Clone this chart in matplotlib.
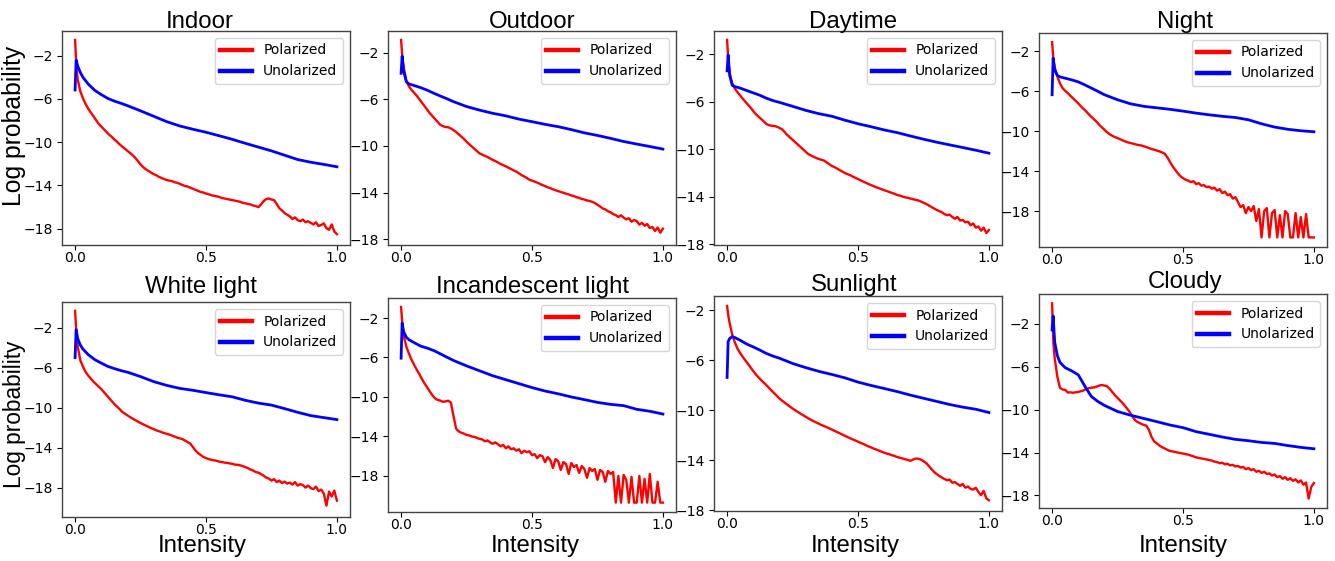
import numpy as np
import matplotlib
matplotlib.use('Agg')
import matplotlib.pyplot as plt

W, H = 1335, 561

# intensity bins used for the curves
red_x = np.r_[0, 0.005, np.arange(1, 101) / 100]
blue_x = [0, 0.004, 0.01, 0.02, 0.03, 0.05, 0.075, 0.1, 0.125, 0.15, 0.175,
          0.2, 0.25, 0.3, 0.35, 0.4, 0.45, 0.5, 0.55, 0.6, 0.65, 0.7, 0.75,
          0.8, 0.85, 0.9, 0.95, 1.0]

titles = ['Indoor', 'Outdoor', 'Daytime', 'Night',
          'White light', 'Incandescent light', 'Sunlight', 'Cloudy']

# log probability, polarized
indoor_pol = [-0.55, -3.0,
    -4.2, -5.3, -5.95, -6.45, -6.9, -7.25, -7.6, -7.95, -8.3, -8.55,
    -8.8, -9.05, -9.3, -9.5, -9.75, -9.95, -10.2, -10.4, -10.6, -10.8,
    -11.0, -11.2, -11.45, -11.75, -12.05, -12.3, -12.5, -12.65, -12.8, -12.95,
    -13.05, -13.2, -13.3, -13.4, -13.5, -13.55, -13.6, -13.7, -13.75, -13.85,
    -13.95, -14.05, -14.1, -14.2, -14.3, -14.4, -14.5, -14.6, -14.65, -14.75,
    -14.8, -14.9, -14.95, -15.0, -15.05, -15.15, -15.2, -15.25, -15.3, -15.35,
    -15.4, -15.45, -15.5, -15.6, -15.65, -15.7, -15.75, -15.85, -15.9, -16.0,
    -15.75, -15.45, -15.25, -15.2, -15.3, -15.35, -15.7, -16.1, -16.3, -16.55,
    -16.7, -16.85, -17.1, -16.95, -17.2, -17.3, -17.15, -17.4, -17.3, -17.45,
    -17.6, -17.4, -17.75, -17.65, -17.5, -17.95, -18.1, -17.6, -18.25, -18.5]
outdoor_pol = [-0.91, -2.4,
    -3.3, -4.4, -4.9, -5.2, -5.45, -5.7, -6.0, -6.3, -6.6, -6.9,
    -7.2, -7.45, -7.7, -7.95, -8.2, -8.3, -8.38, -8.4, -8.5, -8.65,
    -8.8, -9.0, -9.2, -9.4, -9.64, -9.85, -10.05, -10.25, -10.45, -10.64,
    -10.75, -10.85, -10.95, -11.07, -11.2, -11.3, -11.42, -11.55, -11.65, -11.75,
    -11.87, -11.98, -12.1, -12.2, -12.35, -12.5, -12.62, -12.75, -12.9, -12.98,
    -13.06, -13.15, -13.25, -13.36, -13.45, -13.55, -13.62, -13.72, -13.8, -13.88,
    -13.95, -14.02, -14.1, -14.16, -14.25, -14.3, -14.4, -14.45, -14.55, -14.6,
    -14.68, -14.72, -14.8, -14.9, -15.05, -15.2, -15.36, -15.45, -15.6, -15.7,
    -15.85, -15.94, -16.1, -15.95, -16.15, -16.3, -16.2, -16.5, -16.35, -16.45,
    -16.75, -16.6, -16.85, -16.7, -17.05, -16.95, -17.3, -17.0, -17.45, -17.1]
daytime_pol = [-0.79, -2.6,
    -3.6, -4.5, -4.9, -5.2, -5.48, -5.75, -6.0, -6.25, -6.5, -6.78,
    -7.05, -7.25, -7.45, -7.65, -7.87, -7.97, -8.02, -8.03, -8.1, -8.2,
    -8.32, -8.55, -8.8, -9.0, -9.2, -9.4, -9.6, -9.8, -10.0, -10.2,
    -10.4, -10.52, -10.62, -10.72, -10.82, -10.88, -10.95, -11.1, -11.25, -11.4,
    -11.5, -11.62, -11.75, -11.88, -12.0, -12.1, -12.18, -12.3, -12.4, -12.5,
    -12.62, -12.72, -12.82, -12.92, -13.02, -13.1, -13.2, -13.28, -13.36, -13.45,
    -13.52, -13.6, -13.68, -13.75, -13.85, -13.9, -13.98, -14.05, -14.08, -14.15,
    -14.2, -14.26, -14.3, -14.4, -14.5, -14.6, -14.72, -14.85, -14.98, -15.1,
    -15.2, -15.3, -15.45, -15.55, -15.5, -15.7, -15.85, -15.7, -16.0, -15.95,
    -16.15, -16.1, -16.4, -16.25, -16.6, -16.5, -16.85, -16.6, -17.05, -16.8]
night_pol = [-1.06, -2.8,
    -3.6, -4.5, -5.2, -5.67, -5.95, -6.17, -6.45, -6.7, -6.95, -7.2,
    -7.5, -7.75, -8.0, -8.3, -8.55, -8.8, -9.05, -9.35, -9.6, -9.85,
    -10.1, -10.3, -10.45, -10.58, -10.68, -10.8, -10.92, -11.02, -11.12, -11.18,
    -11.25, -11.32, -11.38, -11.42, -11.5, -11.58, -11.68, -11.78, -11.85, -11.93,
    -12.02, -12.12, -12.25, -12.6, -13.05, -13.5, -13.86, -14.2, -14.5, -14.7,
    -14.85, -14.95, -15.1, -15.0, -15.3, -15.2, -15.45, -15.4, -15.6, -15.55,
    -15.75, -15.65, -15.95, -15.8, -16.2, -16.05, -16.4, -16.3, -16.75, -16.6,
    -17.1, -17.6, -17.4, -18.2, -17.6, -18.0, -17.5, -19.0, -17.8, -20.64,
    -18.0, -17.7, -20.64, -18.2, -17.9, -20.64, -18.4, -20.64, -18.0, -18.3,
    -20.64, -20.64, -18.2, -20.64, -18.6, -20.64, -18.3, -20.64, -20.64, -20.64]
white_pol = [-0.33, -2.6,
    -3.9, -5.27, -5.9, -6.43, -6.8, -7.1, -7.4, -7.65, -7.9, -8.15,
    -8.45, -8.75, -9.05, -9.35, -9.65, -9.9, -10.15, -10.43, -10.6, -10.78,
    -10.95, -11.1, -11.25, -11.4, -11.55, -11.67, -11.8, -11.92, -12.05, -12.15,
    -12.27, -12.36, -12.45, -12.55, -12.62, -12.7, -12.8, -12.9, -13.0, -13.08,
    -13.15, -13.3, -13.45, -13.6, -13.95, -14.3, -14.55, -14.75, -14.93, -15.05,
    -15.15, -15.22, -15.27, -15.32, -15.4, -15.45, -15.5, -15.53, -15.58, -15.62,
    -15.7, -15.72, -15.77, -15.85, -15.95, -16.05, -16.2, -16.3, -16.45, -16.5,
    -16.65, -16.8, -17.0, -17.1, -17.3, -17.15, -17.45, -17.3, -17.55, -17.4,
    -17.6, -17.5, -17.7, -17.45, -17.8, -17.65, -17.75, -18.0, -17.8, -18.05,
    -18.15, -17.9, -18.35, -18.2, -18.6, -19.8, -18.4, -18.9, -18.3, -19.3]
incandescent_pol = [-0.88, -2.7,
    -3.8, -4.9, -5.6, -6.24, -6.75, -7.25, -7.7, -8.2, -8.65, -9.05,
    -9.46, -9.85, -10.14, -10.3, -10.37, -10.5, -10.45, -10.38, -10.55, -11.9,
    -13.2, -13.5, -13.62, -13.72, -13.85, -13.9, -14.0, -14.05, -14.15, -14.25,
    -14.3, -14.5, -14.4, -14.6, -14.75, -14.6, -14.8, -15.0, -14.85, -15.2,
    -15.0, -15.3, -15.2, -15.45, -15.3, -15.7, -15.45, -15.6, -15.5, -15.9,
    -15.8, -16.2, -15.9, -16.0, -16.6, -16.1, -16.4, -17.2, -16.3, -16.5,
    -17.4, -16.6, -16.8, -17.8, -16.7, -17.1, -16.9, -17.7, -17.0, -17.3,
    -18.2, -17.2, -17.5, -17.3, -18.4, -17.4, -17.6, -18.6, -17.5, -17.8,
    -17.6, -20.71, -18.0, -20.71, -17.9, -18.4, -20.71, -18.1, -20.71, -20.71,
    -18.0, -20.71, -18.3, -20.71, -17.8, -20.71, -20.71, -18.6, -20.71, -20.71]
sunlight_pol = [-1.68, -2.5,
    -3.07, -4.0, -4.6, -5.1, -5.45, -5.75, -6.03, -6.3, -6.6, -6.88,
    -7.15, -7.38, -7.6, -7.8, -8.0, -8.22, -8.44, -8.65, -8.86, -9.07,
    -9.24, -9.4, -9.56, -9.72, -9.87, -10.01, -10.14, -10.27, -10.4, -10.53,
    -10.65, -10.77, -10.88, -10.98, -11.08, -11.18, -11.27, -11.36, -11.45, -11.55,
    -11.65, -11.75, -11.85, -11.95, -12.05, -12.15, -12.25, -12.34, -12.43, -12.52,
    -12.62, -12.7, -12.8, -12.9, -12.98, -13.07, -13.15, -13.23, -13.32, -13.4,
    -13.47, -13.53, -13.6, -13.67, -13.75, -13.81, -13.86, -13.92, -13.98, -14.05,
    -13.95, -13.87, -13.88, -13.95, -14.08, -14.22, -14.45, -14.7, -14.93, -15.1,
    -15.25, -15.38, -15.5, -15.6, -15.55, -15.8, -15.75, -15.9, -16.05, -15.9,
    -16.2, -16.1, -16.3, -16.35, -16.2, -16.55, -16.8, -16.45, -17.05, -17.2]
cloudy_pol = [-0.07, -3.8,
    -5.2, -6.9, -7.95, -8.12, -8.15, -8.4, -8.38, -8.42, -8.38, -8.34,
    -8.28, -8.2, -8.08, -8.0, -7.95, -7.92, -7.85, -7.75, -7.7, -7.75,
    -7.82, -8.05, -8.35, -8.65, -8.9, -9.15, -9.4, -9.7, -10.0, -10.35,
    -10.75, -11.05, -11.2, -11.32, -11.42, -11.5, -11.9, -12.55, -12.97, -13.15,
    -13.35, -13.5, -13.62, -13.75, -13.85, -13.9, -13.95, -14.0, -14.05, -14.1,
    -14.15, -14.2, -14.28, -14.35, -14.45, -14.5, -14.55, -14.6, -14.65, -14.7,
    -14.75, -14.85, -14.9, -15.0, -14.95, -15.1, -15.05, -15.2, -15.15, -15.3,
    -15.25, -15.4, -15.35, -15.55, -15.45, -15.65, -15.55, -15.8, -15.7, -15.9,
    -15.8, -16.0, -15.95, -16.15, -16.05, -16.3, -16.2, -16.45, -16.3, -16.55,
    -16.4, -16.65, -16.5, -16.8, -16.6, -17.0, -16.8, -18.3, -17.2, -16.85]

# log probability, unpolarized
indoor_unpol = [-5.17, -2.4, -2.95, -3.55, -4.0, -4.62, -5.2, -5.6, -5.95, -6.2,
    -6.4, -6.62, -7.1, -7.6, -8.1, -8.5, -8.8, -9.08, -9.4, -9.73, -10.1,
    -10.45, -10.8, -11.2, -11.6, -11.85, -12.05, -12.27]
outdoor_unpol = [-3.77, -2.3, -3.6, -4.5, -4.68, -4.82, -5.0, -5.22, -5.48, -5.72,
    -5.95, -6.2, -6.62, -6.93, -7.2, -7.42, -7.7, -7.92, -8.15, -8.35, -8.6,
    -8.88, -9.1, -9.35, -9.62, -9.84, -10.05, -10.27]
daytime_unpol = [-3.4, -2.06, -3.8, -4.62, -4.72, -4.85, -5.05, -5.25, -5.45, -5.7,
    -5.9, -6.05, -6.38, -6.72, -7.0, -7.22, -7.55, -7.85, -8.1, -8.37, -8.6,
    -8.88, -9.15, -9.4, -9.63, -9.85, -10.08, -10.33]
night_unpol = [-6.34, -2.67, -3.84, -4.4, -4.55, -4.68, -4.85, -5.05, -5.35, -5.67,
    -6.0, -6.34, -6.84, -7.25, -7.5, -7.65, -7.8, -7.98, -8.18, -8.35, -8.5,
    -8.62, -8.85, -9.25, -9.58, -9.8, -9.95, -10.05]
white_unpol = [-5.0, -2.2, -3.1, -3.75, -4.15, -4.7, -5.2, -5.55, -5.88, -6.1,
    -6.3, -6.46, -6.9, -7.4, -7.78, -8.08, -8.27, -8.5, -8.72, -8.92, -9.27,
    -9.55, -9.75, -10.1, -10.47, -10.8, -11.0, -11.2]
incandescent_unpol = [-6.07, -2.5, -3.4, -3.95, -4.2, -4.5, -4.85, -5.05, -5.3, -5.63,
    -5.97, -6.3, -6.85, -7.35, -7.85, -8.25, -8.65, -9.05, -9.4, -9.68, -10.0,
    -10.27, -10.55, -10.75, -10.88, -11.25, -11.45, -11.73]
sunlight_unpol = [-7.39, -4.53, -4.27, -4.13, -4.2, -4.42, -4.72, -4.95, -5.2, -5.47,
    -5.68, -5.85, -6.27, -6.6, -6.9, -7.15, -7.42, -7.76, -8.03, -8.27, -8.52,
    -8.8, -9.05, -9.3, -9.55, -9.76, -9.93, -10.19]
cloudy_unpol = [-2.56, -1.25, -3.7, -4.95, -5.58, -6.08, -6.38, -6.75, -7.8, -8.77,
    -9.24, -9.6, -10.17, -10.52, -10.82, -11.12, -11.43, -11.68, -12.05, -12.3,
    -12.55, -12.77, -12.9, -13.06, -13.15, -13.35, -13.52, -13.65]

pol = [indoor_pol, outdoor_pol, daytime_pol, night_pol,
       white_pol, incandescent_pol, sunlight_pol, cloudy_pol]
unpol = [indoor_unpol, outdoor_unpol, daytime_unpol, night_unpol,
         white_unpol, incandescent_unpol, sunlight_unpol, cloudy_unpol]

# axes boxes in pixels: left, top, right, bottom
boxes = [(62, 31, 350, 245), (388, 31, 676, 245), (714, 31, 1002, 245),
         (1039, 33, 1327, 247), (62, 302, 350, 517), (388, 298, 676, 512),
         (714, 296, 1002, 511), (1039, 294, 1327, 508)]
ylims = [(-19.5, 0.28), (-18.5, -0.14), (-18.06, -0.04), (-21.6, -0.15),
         (-20.94, 0.56), (-21.66, 0.03), (-18.06, -0.88), (-19.18, 0.8)]
title_pos = [(200, 28), (532, 28), (853, 28), (1185, 28),
             (201, 293), (532, 293), (854, 291), (1185, 288)]
xlabel_x = [202, 535, 855, 1183]

label_font = 'Liberation Sans'

fig = plt.figure(figsize=(W / 100, H / 100), dpi=100)
for i in range(8):
    l, t, r, b = boxes[i]
    ax = fig.add_axes([l / W, 1 - b / H, (r - l) / W, (b - t) / H])
    ax.plot(red_x, pol[i], color='red', lw=1.7, label='Polarized')
    ax.plot(blue_x, unpol[i], color='blue', lw=2.0, label='Unolarized')
    ax.set_xlim(-0.05, 1.05)
    ax.set_ylim(*ylims[i])
    ax.set_xticks([0.0, 0.5, 1.0])
    ax.set_yticks([-2, -6, -10, -14, -18])
    ax.tick_params(labelsize=10)
    ax.tick_params(axis='x', pad=1.0)
    ax.tick_params(axis='y', pad=2.8)
    for sp in ax.spines.values():
        sp.set_edgecolor('#444444')
        sp.set_linewidth(1.0)
    leg = ax.legend(loc='upper right', fontsize=10, handlelength=2.3)
    for h in leg.get_lines():
        h.set_linewidth(3.2)
    tx, ty = title_pos[i]
    fig.text(tx / W, 1 - ty / H, titles[i], ha='center', va='baseline',
             fontsize=17.3, family=label_font)

for x in xlabel_x:
    fig.text(x / W, 1 - 552 / H, 'Intensity', ha='center', va='baseline',
             fontsize=17.3, family=label_font)

fig.text(14.5 / W, 1 - 126 / H, 'Log probability', rotation=90, ha='center',
         va='center', fontsize=17.8, family=label_font)
fig.text(14.5 / W, 1 - 414 / H, 'Log probability', rotation=90, ha='center',
         va='center', fontsize=16.3, family=label_font)

fig.savefig('out.png', dpi=100)
